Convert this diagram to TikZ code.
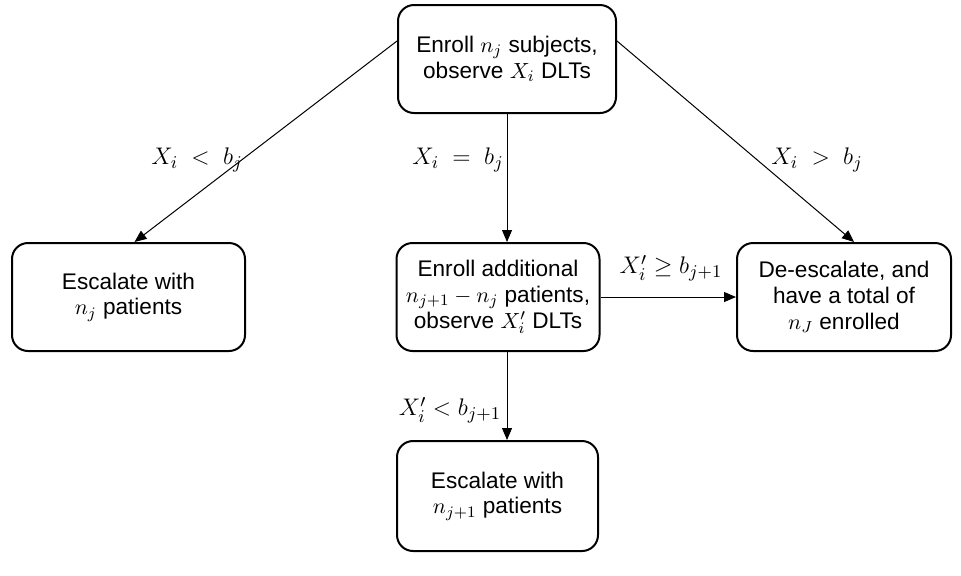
\documentclass[tikz,border=0pt]{standalone}
\usepackage{fontspec}
\setmainfont{Liberation Sans}
\usetikzlibrary{arrows.meta}
\tikzstyle{stepbox}=[draw=black,line width=1pt,rounded corners=8pt,align=center,
  minimum height=54pt,inner sep=0pt,font=\fontsize{11.3}{12.9}\selectfont]
\tikzstyle{cond}=[inner sep=0pt,font=\fontsize{13}{15}\selectfont]
\tikzstyle{flow}=[-{Triangle[length=6pt,width=5pt]},line width=0.5pt]

\begin{document}
\begin{tikzpicture}[x=0.5pt,y=-0.5pt]
  \useasboundingbox (0,0) rectangle (961,575);
  % boxes
  \node[stepbox,minimum width=109pt] (enroll) at (507,59)
    {Enroll $n_j$ subjects,\\observe $X_i$ DLTs};
  \node[stepbox,minimum width=116.5pt] (escl) at (128.5,297)
    {Escalate with\\$n_j$ patients};
  \node[stepbox,minimum width=101.5pt] (addl) at (498,297)
    {Enroll additional\\$n_{j+1}-n_j$ patients,\\observe $X_i'$ DLTs};
  \node[stepbox,minimum width=107pt] (desc) at (844,297)
    {De-escalate, and\\have a total of\\$n_J$ enrolled};
  \node[stepbox,minimum width=100.5pt,minimum height=55pt] (escm) at (497.5,496)
    {Escalate with\\$n_{j+1}$ patients};
  % connectors
  \draw[flow] ([yshift=9pt]enroll.west) -- ([xshift=3pt]escl.north);
  \draw[flow] (enroll.south) -- (enroll.south |- addl.north);
  \draw[flow] ([yshift=9pt]enroll.east) -- ([xshift=5pt]desc.north);
  \draw[flow] (addl.east) -- (desc.west);
  \draw[flow] (addl.south -| enroll) -- (escm.north -| enroll);
  % conditions
  \node[cond] (lt) at (197,160) {$X_i \;<\; b_j$};
  \node[cond] (eq) at (458,160) {$X_i \;=\; b_j$};
  \node[cond] (gt) at (817,160) {$X_i \;>\; b_j$};
  \node[cond] (ge) at (671,268) {$X_i' \geq b_{j+1}$};
  \node[cond] (lt2) at (450,410) {$X_i' < b_{j+1}$};
\end{tikzpicture}
\end{document}
